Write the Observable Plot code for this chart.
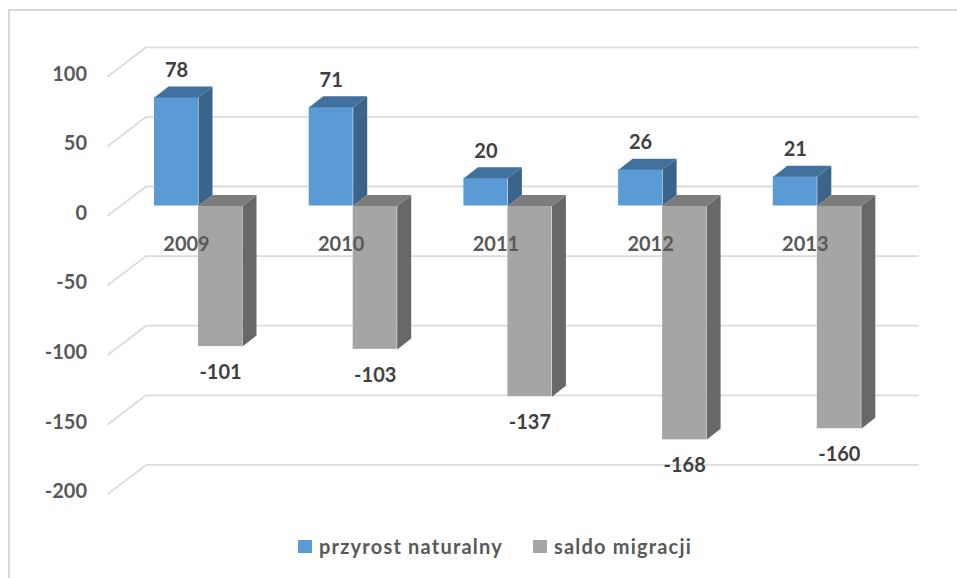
<!DOCTYPE html>
<html>
<head>
<meta charset="utf-8">
<script src="https://cdn.jsdelivr.net/npm/d3@7"></script>
<script src="https://cdn.jsdelivr.net/npm/@observablehq/plot@0.6"></script>
<style>
  html, body { margin: 0; padding: 0; background: #fff; }
  body { width: 957px; height: 578px; overflow: hidden; position: relative; font-family: Lato, "Open Sans", sans-serif; }
  #frame { position: absolute; left: 8px; top: 9px; right: 0; bottom: 0; border-left: 2px solid #d9d9d9; border-top: 2px solid #d9d9d9; pointer-events: none; }
  #chart svg { display: block; }
  #legend { display: flex; align-items: center; height: 44px; margin-left: 298px; font-size: 20px; font-weight: 700; color: #595959; letter-spacing: 1.2px; }
  #legend i { display: inline-block; width: 14px; height: 13px; margin-right: 7px; }
  #legend span { margin-right: 30px; white-space: nowrap; }
</style>
</head>
<body>
<div id="frame"></div>
<div id="chart"></div>
<div id="legend"></div>
<script>
const years = ["2009", "2010", "2011", "2012", "2013"];
const naturalGrowth = [78, 71, 20, 26, 21];
const migrationBalance = [-101, -103, -137, -168, -160];
const yTicks = [100, 50, 0, -50, -100, -150, -200];
const seriesNames = ["przyrost naturalny", "saldo migracji"];

const colors = {
  blue: { front: "#5b9bd5", side: "#3a648a", top: "#41719c" },
  gray: { front: "#a5a5a5", side: "#686868", top: "#7c7c7c" }
};

// Layout of the pseudo-3D box, expressed in scale units
const W = 957, H = 524;
const groupPx = 154.7, unitPx = 1.392, originX = 198, originY = 205.5;
const barW = 44 / groupPx, depthX = 14 / groupPx, depthY = 11 / unitPx;
const wallBack = 14, wallFront = -6.8;
const gridFrontX = -0.585, gridBackX = -0.339, gridEndX = 4.65;

function faces(values, left) {
  const side = [], top = [], front = [];
  values.forEach((v, i) => {
    const x0 = i + left, x1 = x0 + barW, t = Math.max(v, 0), b = Math.min(v, 0);
    front.push({ x1: x0, x2: x1, y1: b, y2: t });
    [[x1, t], [x1 + depthX, t + depthY], [x1 + depthX, b + depthY], [x1, b]]
      .forEach(([x, y]) => side.push({ id: i, x, y }));
    [[x0, t], [x1, t], [x1 + depthX, t + depthY], [x0 + depthX, t + depthY]]
      .forEach(([x, y]) => top.push({ id: i, x, y }));
  });
  return { side, top, front };
}
const blue = faces(naturalGrowth, -barW);
const gray = faces(migrationBalance, 0);

const grid = yTicks.flatMap(t => [
  { t, x: gridFrontX, y: t + wallFront },
  { t, x: gridBackX, y: t + wallBack },
  { t, x: gridEndX, y: t + wallBack }
]);

function bar(f, c) {
  return [
    Plot.line(f.side, { x: "x", y: "y", z: "id", fill: c.side, stroke: "none" }),
    Plot.rect(f.front, { x1: "x1", x2: "x2", y1: "y1", y2: "y2", fill: c.front }),
    Plot.line(f.top, { x: "x", y: "y", z: "id", fill: c.top, stroke: "none" })
  ];
}

const fontStyle = { fontFamily: "Lato, 'Open Sans', sans-serif", fontSize: 20, fontWeight: 700 };

const chart = Plot.plot({
  width: W, height: H,
  marginTop: 0, marginRight: 0, marginBottom: 0, marginLeft: 0,
  x: { axis: null, domain: [-originX / groupPx, (W - originX) / groupPx] },
  y: { axis: null, domain: [(originY - H) / unitPx, originY / unitPx] },
  marks: [
    Plot.line(grid, { x: "x", y: "y", z: "t", stroke: "#dcdcdc", strokeWidth: 1.8 }),
    Plot.text(yTicks, { x: gridFrontX, y: d => d + wallFront, text: d => String(d), textAnchor: "end", dx: -21, dy: -2, fill: "#595959", ...fontStyle }),
    ...bar(blue, colors.blue),
    ...bar(gray, colors.gray),
    Plot.text(years, { x: (d, i) => i, y: 0, text: d => d, dx: -12, dy: 39, fill: "#595959", ...fontStyle }),
    Plot.text(naturalGrowth, { x: (d, i) => i - barW / 2, y: d => d, text: d => String(d), dy: -27, fill: "#404040", ...fontStyle }),
    Plot.text(migrationBalance, { x: (d, i) => i + barW / 2, y: d => d, text: d => String(d), dy: 26, fill: "#404040", ...fontStyle })
  ]
});
document.getElementById("chart").append(chart);

const legend = document.getElementById("legend");
seriesNames.forEach((name, i) => {
  const sw = document.createElement("i");
  sw.style.background = [colors.blue.front, colors.gray.front][i];
  const label = document.createElement("span");
  label.textContent = name;
  legend.append(sw, label);
});
</script>
</body>
</html>
